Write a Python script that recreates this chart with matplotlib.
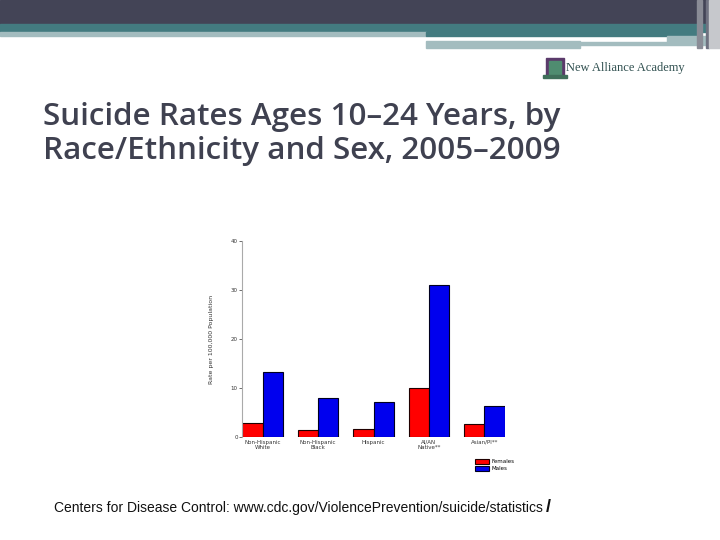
import numpy as np
import matplotlib.pyplot as plt
from matplotlib.patches import Rectangle

# data
groups = ['Non-Hispanic\nWhite', 'Non-Hispanic\nBlack', 'Hispanic', 'AI/AN\nNative**', 'Asian/PI**']
females = [2.9, 1.4, 1.6, 10.0, 2.7]
males = [13.3, 7.9, 7.1, 31.0, 6.3]
yticks = [0, 10, 20, 30, 40]

fig = plt.figure(figsize=(7.2, 5.4), dpi=100)
fig.patch.set_facecolor('white')

# slide header bands (pixel coords, y measured from top)
def band(x0, y0, x1, y1, color):
    fig.patches.append(Rectangle((x0 / 720, 1 - y1 / 540), (x1 - x0) / 720, (y1 - y0) / 540,
                                 transform=fig.transFigure, color=color, zorder=0))

band(0, 0, 720, 24, '#434456')
band(0, 24, 720, 32, '#437b80')
band(0, 32, 426, 36, '#a3bcbf')
band(426, 32, 700, 36, '#437b80')
band(426, 39, 667, 41, '#ffffff')
band(426, 41, 580, 48, '#a3bcbf')
band(580, 42, 706, 45, '#a3bcbf')
band(667, 36, 706, 42, '#a3bcbf')
band(697, 0, 702, 48, '#8a8c96')
band(706, 0, 709, 48, '#6f7180')
band(709, 0, 720, 48, '#c6c8cc')

# logo
band(546, 58, 564, 75, '#5b3a6b')
band(549, 61, 561, 75, '#4f8c70')
band(543, 75, 567, 78, '#3f6f5a')
fig.text(566 / 720, 1 - 68 / 540, 'New Alliance Academy', fontsize=9,
         family='Liberation Serif', color='#2f4f4f', va='center', ha='left')

# title
fig.text(43 / 720, 1 - 134 / 540, 'Suicide Rates Ages 10\u201324 Years, by\nRace/Ethnicity and Sex, 2005\u20132009',
         fontsize=22.6, color='#3f4150', family='Open Sans', weight='semibold', va='center', ha='left',
         linespacing=1.15)

# chart
ax = fig.add_axes([242 / 720, 1 - 437 / 540, 263 / 720, 196 / 540])
x = np.arange(len(groups))
w = 0.367
ax.bar(x - w / 2, females, w, color='#ff0000', edgecolor='#200000', linewidth=0.8, label='Females')
ax.bar(x + w / 2, males, w, color='#0000ee', edgecolor='#000020', linewidth=0.8, label='Males')
ax.set_xlim(-0.375, 4.375)
ax.set_ylim(0, 40)
ax.set_yticks(yticks)
ax.set_xticks(x)
ax.set_xticklabels(groups, fontsize=4, color='#333333', linespacing=1.0)
ax.tick_params(axis='y', labelsize=4, colors='#333333', length=2, width=0.5, pad=1)
ax.tick_params(axis='x', length=0, pad=2)
for s in ['top', 'right', 'bottom']:
    ax.spines[s].set_visible(False)
ax.spines['left'].set_color('#aaaaaa')
ax.spines['left'].set_linewidth(0.8)
ax.set_ylabel('Rate per 100,000 Population', fontsize=4.5, color='#333333', labelpad=12)
ax.patch.set_alpha(0)

leg = ax.legend(loc='upper left', bbox_to_anchor=(475 / 720, 1 - 459 / 540),
                bbox_transform=fig.transFigure, fontsize=4, frameon=False,
                handlelength=2.5, handleheight=0.9, labelspacing=0.3, handletextpad=0.4,
                borderpad=0, borderaxespad=0)

# source line
fig.text(54 / 720, 1 - 508 / 540, 'Centers for Disease Control: www.cdc.gov/ViolencePrevention/suicide/statistics',
         fontsize=10, family='Liberation Sans', color='#111111', va='center', ha='left')
fig.text(546 / 720, 1 - 507 / 540, '/', fontsize=13, family='Liberation Sans', weight='bold',
         color='#111111', va='center', ha='left')

fig.savefig('out.png', dpi=100)
